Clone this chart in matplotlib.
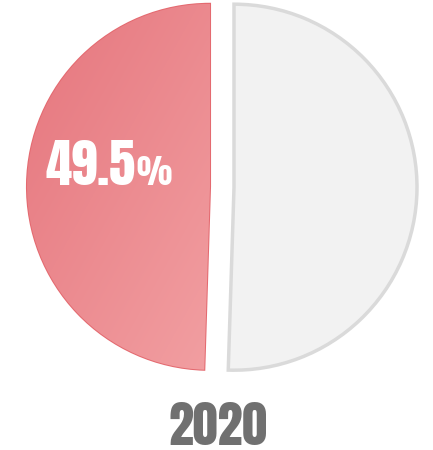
import matplotlib
matplotlib.use("Agg")
import matplotlib.pyplot as plt
import numpy as np

labels = ["2020", "Rest"]
values = [49.5, 50.5]
title = "2020"
value_label = "49.5"

fig = plt.figure(figsize=(4.33, 4.5), dpi=100)
ax = fig.add_axes([0, 0, 1, 1])

cx, cy, r = 222, 263, 183
wedges, _ = ax.pie(values, startangle=90, counterclock=True, radius=r,
                   center=(cx, cy), explode=[12, 12],
                   colors=["#ec8a8c", "#f2f2f2"],
                   wedgeprops=dict(linewidth=1.5, edgecolor="#e46a70"),
                   frame=True)
ax.set_xlim(0, 433)
ax.set_ylim(0, 450)
ax.set_aspect("equal")
ax.axis("off")
wedges[1].set_edgecolor("#dadada")
wedges[1].set_linewidth(2.5)

# gradient on red slice
g = np.linspace(0, 1, 256)
X, Y = np.meshgrid(g, g)
t = (X + Y) / 2
c0 = np.array([0.90, 0.46, 0.49])
c1 = np.array([0.95, 0.63, 0.64])
img = c0[None, None, :] * (1 - t[..., None]) + c1[None, None, :] * t[..., None]
im = ax.imshow(img, extent=(cx - r - 15, cx + 5, cy - r, cy + r), origin="upper",
               zorder=wedges[0].get_zorder() + 0.1, aspect="auto")
im.set_clip_path(wedges[0])

t1 = ax.text(45, 265, value_label, color="white", fontsize=38,
             family=["Anton", "DejaVu Sans"], ha="left", va="baseline", zorder=5)
fig.canvas.draw()
bb = t1.get_window_extent(fig.canvas.get_renderer())
x_end = ax.transData.inverted().transform((bb.x1, bb.y0))[0]
ax.text(x_end + 1, 265, "%", color="white", fontsize=24,
        family=["Anton", "DejaVu Sans"], ha="left", va="baseline", zorder=5)

ax.text(218, 5, title, color="#707070", fontsize=36,
        family=["Anton", "DejaVu Sans"], ha="center", va="baseline")

fig.savefig("out.png", dpi=100)
